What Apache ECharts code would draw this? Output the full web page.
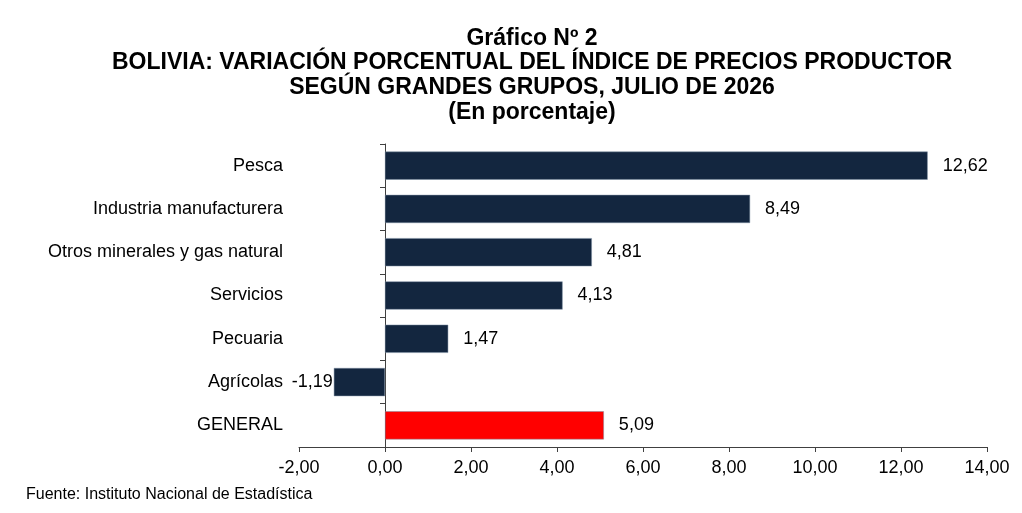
<!DOCTYPE html>
<html>
<head>
<meta charset="utf-8">
<script src="https://cdn.jsdelivr.net/npm/echarts@6/dist/echarts.min.js"></script>
<style>
  html, body { margin: 0; padding: 0; background: #fff; }
  #chart { width: 1022px; height: 513px; }
</style>
</head>
<body>
<div id="chart"></div>
<script>
(function() {
  var font = 'Arial, "Liberation Sans", sans-serif';

  // --- Data ---
  var categories = [
    'Pesca', 'Industria manufacturera', 'Otros minerales y gas natural',
    'Servicios', 'Pecuaria', 'Agrícolas', 'GENERAL'
  ];
  var values = [12.62, 8.49, 4.81, 4.13, 1.47, -1.19, 5.09];
  var barColors = ['#13263f', '#13263f', '#13263f', '#13263f', '#13263f', '#13263f', '#ff0000'];

  function fmt(v) { return v.toFixed(2).replace('.', ','); }

  var chart = echarts.init(document.getElementById('chart'), null, { renderer: 'canvas' });

  var seriesData = values.map(function(v, i) {
    return {
      value: v,
      itemStyle: { color: barColors[i] },
      label: v < 0 ? { position: 'left', distance: 1 } : { position: 'right', distance: 15 }
    };
  });

  chart.setOption({
    animation: false,
    backgroundColor: '#fff',
    title: [
      {
        text: 'Gráfico Nº 2\nBOLIVIA: VARIACIÓN PORCENTUAL DEL ÍNDICE DE PRECIOS PRODUCTOR\nSEGÚN GRANDES GRUPOS, JULIO DE 2026\n(En porcentaje)',
        left: 527,
        top: 21,
        textAlign: 'center',
        textStyle: {
          fontFamily: font,
          fontSize: 23,
          fontWeight: 'bold',
          color: '#000',
          lineHeight: 24.7
        }
      },
      {
        text: 'Fuente: Instituto Nacional de Estadística',
        left: 21,
        top: 482,
        textStyle: { fontFamily: font, fontSize: 16, fontWeight: 'normal', color: '#000' }
      }
    ],
    grid: { left: 299, right: 35, top: 144, bottom: 66, containLabel: false, outerBoundsMode: 'none' },
    xAxis: {
      type: 'value',
      min: -2,
      max: 14,
      interval: 2,
      axisLine: { show: true, lineStyle: { color: '#404040', width: 1 } },
      axisTick: { show: true, length: 5, lineStyle: { color: '#404040' } },
      splitLine: { show: false },
      axisLabel: {
        color: '#000',
        fontFamily: font,
        fontSize: 18,
        margin: 12,
        formatter: function(v) { return fmt(v); }
      }
    },
    yAxis: {
      type: 'category',
      data: categories,
      inverse: true,
      axisLine: { show: true, onZero: true, lineStyle: { color: '#404040', width: 1 } },
      axisTick: { show: true, length: 5, lineStyle: { color: '#404040' } },
      axisLabel: {
        color: '#000',
        fontFamily: font,
        fontSize: 18,
        margin: 16
      }
    },
    series: [
      {
        type: 'bar',
        data: seriesData,
        barWidth: '65%',
        itemStyle: { borderColor: '#7d8ea3', borderWidth: 0.5 },
        label: {
          show: true,
          color: '#000',
          fontFamily: font,
          fontSize: 18,
          formatter: function(p) { return fmt(p.value); }
        }
      }
    ]
  });

  window.addEventListener('resize', function() { chart.resize(); });
})();
</script>
</body>
</html>
